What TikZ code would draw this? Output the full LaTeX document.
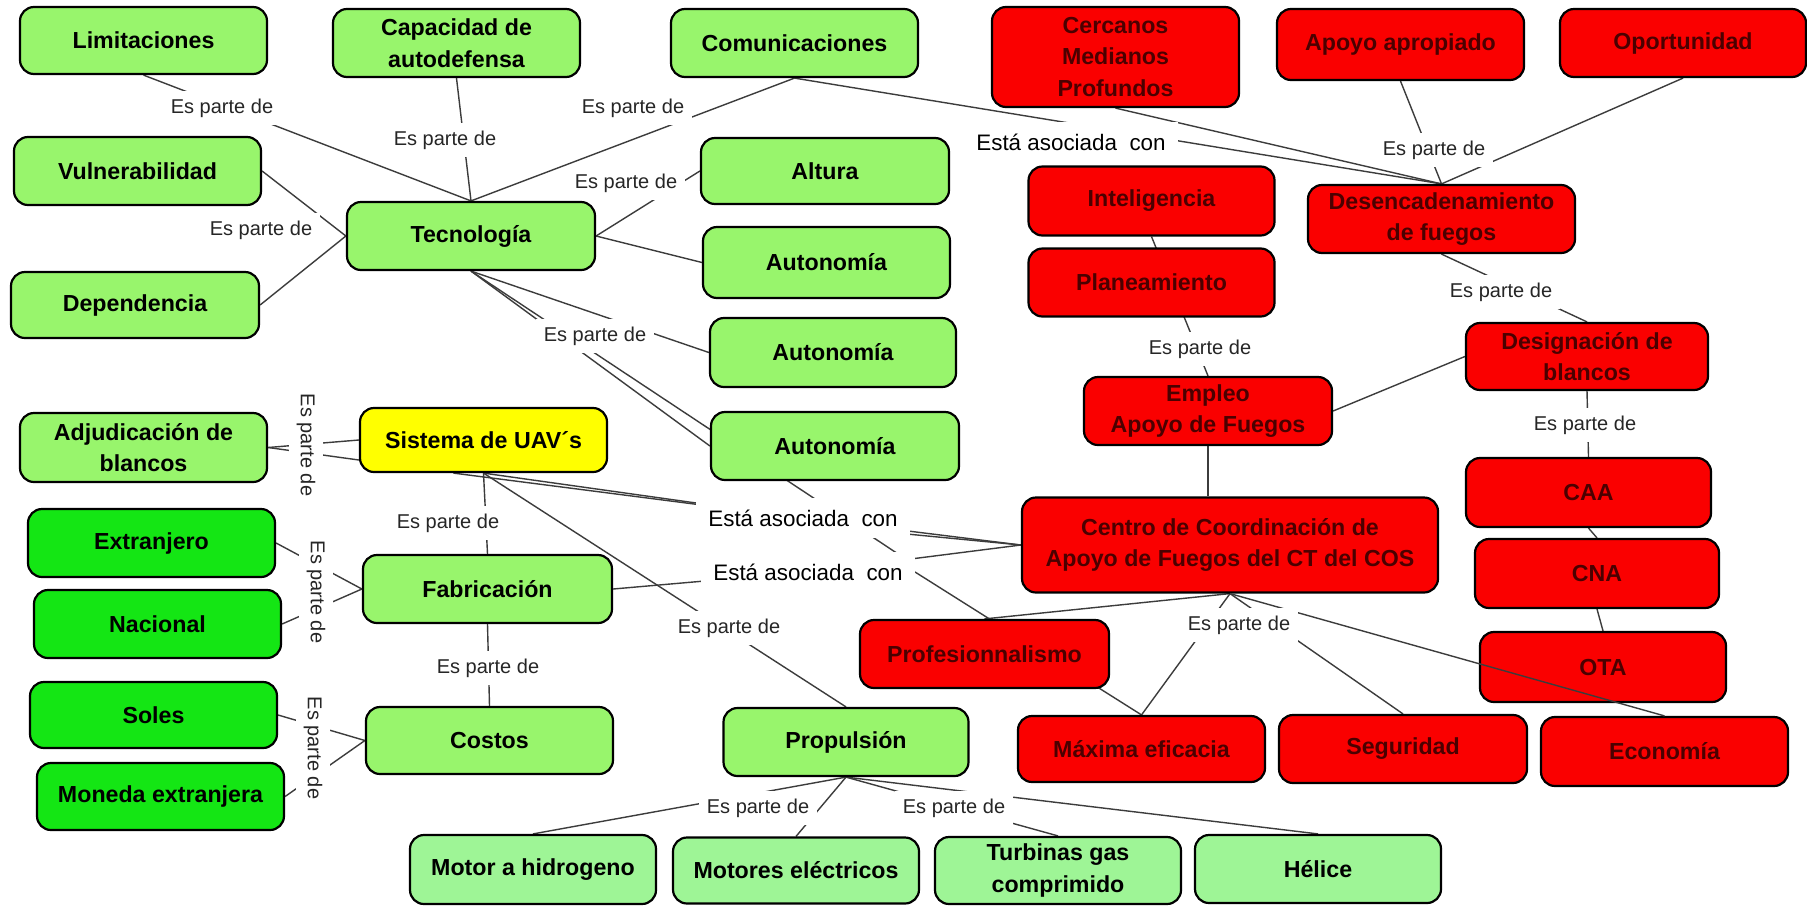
\documentclass[tikz,border=0pt]{standalone}
\usepackage{fontspec}
\setmainfont{Liberation Sans}
\usetikzlibrary{calc}

\definecolor{lgreen}{RGB}{152,245,108}
\definecolor{mint}{RGB}{158,245,150}
\definecolor{bgreen}{RGB}{20,230,20}
\definecolor{cred}{RGB}{250,0,0}
\definecolor{redtext}{RGB}{75,0,0}
\definecolor{cyellow}{RGB}{255,255,0}
\definecolor{wirecol}{RGB}{60,60,60}

\pgfdeclarelayer{paper}
\pgfdeclarelayer{wires}
\pgfsetlayers{paper,wires,main}

\tikzset{
  concept/.style={draw=black, line width=1.1pt, rounded corners=7pt, align=center,
    inner sep=2pt, font=\bfseries\fontsize{11.6}{15.8}\selectfont},
  gbox/.style={concept, fill=lgreen, text=black},
  mbox/.style={concept, fill=mint, text=black},
  bbox/.style={concept, fill=bgreen, text=black},
  ybox/.style={concept, fill=cyellow, text=black},
  rbox/.style={concept, fill=cred, text=redtext},
  link/.style={fill=white, inner xsep=4pt, inner ysep=4pt, text=black!85,
    font=\fontsize{10}{12}\selectfont},
  assoc/.style={fill=white, inner xsep=6pt, inner ysep=6pt, text=black,
    font=\fontsize{11.2}{13}\selectfont},
  wire/.style={draw=wirecol, line width=0.7pt},
}

\begin{document}
\begin{tikzpicture}[x=0.5pt,y=-0.5pt]
\useasboundingbox (0,0) rectangle (1807,905);
\begin{pgfonlayer}{paper}
\fill[white] (0,0) rectangle (1807,905);
\end{pgfonlayer}

% ---- Tecnología branch (left, top)
\node[gbox, minimum width=123.5pt, minimum height=33.5pt] (lim) at (143.5,40.5) {Limitaciones};
\node[gbox, minimum width=123.5pt, minimum height=34pt] (cap) at (456.5,43) {Capacidad de\\autodefensa};
\node[gbox, minimum width=123.5pt, minimum height=34pt] (com) at (794.5,43) {Comunicaciones};
\node[gbox, minimum width=123.5pt, minimum height=34pt] (vul) at (137.5,171) {Vulnerabilidad};
\node[gbox, minimum width=124pt, minimum height=34pt] (tec) at (471,236) {Tecnología};
\node[gbox, minimum width=124pt, minimum height=33pt] (dep) at (135,305) {Dependencia};
\node[gbox, minimum width=124pt, minimum height=33pt] (alt) at (825,171) {Altura};
\node[gbox, minimum width=123.5pt, minimum height=35.5pt] (aut1) at (826.5,262.5) {Autonomía};
\node[gbox, minimum width=123pt, minimum height=34.5pt] (aut2) at (833,352.5) {Autonomía};
\node[gbox, minimum width=124pt, minimum height=34pt] (aut3) at (835,446) {Autonomía};

% ---- Sistema, fabricación, costos
\node[gbox, minimum width=123.5pt, minimum height=34.5pt] (adj) at (143.5,447.5) {Adjudicación de\\blancos};
\node[ybox, minimum width=123.5pt, minimum height=32pt] (sis) at (483.5,440) {Sistema de UAV´s};
\node[bbox, minimum width=123.5pt, minimum height=34pt] (ext) at (151.5,543) {Extranjero};
\node[bbox, minimum width=123.5pt, minimum height=34pt] (nac) at (157.5,624) {Nacional};
\node[gbox, minimum width=124.5pt, minimum height=34pt] (fab) at (487.5,589) {Fabricación};
\node[bbox, minimum width=123.5pt, minimum height=33pt] (sol) at (153.5,715) {Soles};
\node[bbox, minimum width=123.5pt, minimum height=33.5pt] (mon) at (160.5,796.5) {Moneda extranjera};
\node[gbox, minimum width=123.5pt, minimum height=33.5pt] (cos) at (489.5,740.5) {Costos};

% ---- Propulsión
\node[gbox, minimum width=122.5pt, minimum height=34pt] (pro) at (846,742) {Propulsión};
\node[mbox, minimum width=123pt, minimum height=34.5pt] (mh) at (533,869.5) {Motor a hidrogeno};
\node[mbox, minimum width=123pt, minimum height=33pt] (me) at (796,870.5) {Motores eléctricos};
\node[mbox, minimum width=123pt, minimum height=33.5pt] (tur) at (1058,870.5) {Turbinas gas\\comprimido};
\node[mbox, minimum width=123pt, minimum height=34pt] (hel) at (1318,869) {Hélice};

% ---- Apoyo de fuegos (right)
\node[rbox, minimum width=123.5pt, minimum height=50pt] (cer) at (1115.5,57) {Cercanos\\Medianos\\Profundos};
\node[rbox, minimum width=123.5pt, minimum height=35.5pt] (apo) at (1400.5,44.5) {Apoyo apropiado};
\node[rbox, minimum width=123pt, minimum height=34pt] (opo) at (1683,43) {Oportunidad};
\node[rbox, minimum width=123pt, minimum height=34.5pt] (int) at (1151.5,201) {Inteligencia};
\node[rbox, minimum width=123pt, minimum height=34pt] (pla) at (1151.5,282.5) {Planeamiento};
\node[rbox, minimum width=133.5pt, minimum height=34pt] (des) at (1441.5,219) {Desencadenamiento\\de fuegos};
\node[rbox, minimum width=124pt, minimum height=34pt] (emp) at (1208,411) {Empleo\\Apoyo de Fuegos};
\node[rbox, minimum width=121pt, minimum height=33.5pt] (dsg) at (1587,356.5) {Designación de\\blancos};
\node[rbox, minimum width=208pt, minimum height=47.5pt] (cen) at (1230,545) {Centro de Coordinación de\\Apoyo de Fuegos del CT del COS};
\node[rbox, minimum width=122.5pt, minimum height=34.5pt] (caa) at (1588.5,492.5) {CAA};
\node[rbox, minimum width=122pt, minimum height=34.5pt] (cna) at (1597,573.5) {CNA};
\node[rbox, minimum width=123pt, minimum height=35pt] (ota) at (1603,667) {OTA};
\node[rbox, minimum width=124.5pt, minimum height=34pt] (prf) at (984.5,654) {Profesionnalismo};
\node[rbox, minimum width=123.5pt, minimum height=33pt] (max) at (1141.5,749) {Máxima eficacia};
\node[rbox, minimum width=124pt, minimum height=34pt] (seg) at (1403,749) {Seguridad};
\node[rbox, minimum width=123.5pt, minimum height=34.5pt] (eco) at (1664.5,751.5) {Economía};

% this link runs over the OTA box
\draw[wire] (cen.south) -- (eco.north);

% ---- linking phrases
\node[link] (l1) at (222,108) {Es parte de};
\node[link] (l2) at (445,140) {Es parte de};
\node[link] (l3) at (633,108) {Es parte de};
\node[link] (l4) at (626,183) {Es parte de};
\node[link] (l5) at (261,230) {Es parte de};
\node[link] (l6) at (595,336) {Es parte de};
\node[link, rotate=-90] (l7) at (306,445) {Es parte de};
\node[link, rotate=-90] (l8) at (316,592) {Es parte de};
\node[link, rotate=-90] (l9) at (313,748) {Es parte de};
\node[link] (l10) at (448,523) {Es parte de};
\node[link] (l11) at (488,668) {Es parte de};
\node[link] (l12) at (729,628) {Es parte de};
\node[link] (l13) at (758,808) {Es parte de};
\node[link] (l14) at (954,808) {Es parte de};
\node[link] (l15) at (1434,150) {Es parte de};
\node[link] (l16) at (1501,292) {Es parte de};
\node[link] (l17) at (1200,349) {Es parte de};
\node[link] (l18) at (1585,425) {Es parte de};
\node[link] (l19) at (1239,625) {Es parte de};
\node[assoc] (a0) at (1071,142) {Está asociada\ \ con};
\node[assoc] (a1) at (803,518) {Está asociada\ \ con};
\node[assoc] (a2) at (808,572) {Está asociada\ \ con};

\coordinate (a2end) at ($(a2.north east)+(-12,6)$);

% ---- connectors, kept under boxes and phrases
\begin{pgfonlayer}{wires}
\draw[wire] (lim.south) -- (tec.north);
\draw[wire] (cap.south) -- (tec.north);
\draw[wire] (com.south) -- (tec.north);
\draw[wire] (vul.east) -- (tec.west);
\draw[wire] (dep.east) -- (tec.west);
\draw[wire] (tec.east) -- (alt.west);
\draw[wire] (tec.east) -- (aut1.west);
\draw[wire] (tec.south) -- (aut2.west);
\draw[wire] (tec.south) -- (aut3.west);
\draw[wire] (tec.south) -- (a2end);

\draw[wire] (adj.east) -- (sis.west);
\draw[wire] (adj.east) -- ([yshift=-10pt]sis.west);
\draw[wire] (ext.east) -- (fab.west);
\draw[wire] (nac.east) -- (fab.west);
\draw[wire] (sol.east) -- (cos.west);
\draw[wire] (mon.east) -- (cos.west);
\draw[wire] (sis.south) -- (fab.north);
\draw[wire] (fab.south) -- (cos.north);
\draw[wire] ([xshift=-15pt]sis.south) -- (a1);
\draw[wire] (sis.south) -- (a1);
\draw[wire] (sis.south) -- (pro.north);

\draw[wire] (a1) -- (cen.west);
\draw[wire] ([yshift=-3pt]a1.center) -- (cen.west);
\draw[wire] (fab.east) -- (a2);
\draw[wire] (a2) -- (cen.west);
\draw[wire] (a2.east) -- (max.north);
\draw[wire] (prf.north) -- (cen.south);
\draw[wire] (max.north) -- (cen.south);
\draw[wire] (seg.north) -- (cen.south);

\draw[wire] (emp.south) -- (emp.south |- cen.north);
\draw[wire] (emp.east) -- (dsg.west);
\draw[wire] (int.south) -- (emp.north);
\draw[wire] (des.south) -- (dsg.north);
\draw[wire] (dsg.south) -- (caa.north);
\draw[wire] (caa.south) -- (cna.north);
\draw[wire] (cna.south) -- (ota.north);
\draw[wire] (apo.south) -- (des.north);
\draw[wire] (opo.south) -- (des.north);
\draw[wire] (cer.south) -- (des.north);
\draw[wire] (com.south) -- (des.north);

\draw[wire] (pro.south) -- (mh.north);
\draw[wire] (pro.south) -- (me.north);
\draw[wire] (pro.south) -- (tur.north);
\draw[wire] (pro.south) -- (hel.north);
\end{pgfonlayer}
\end{tikzpicture}
\end{document}
